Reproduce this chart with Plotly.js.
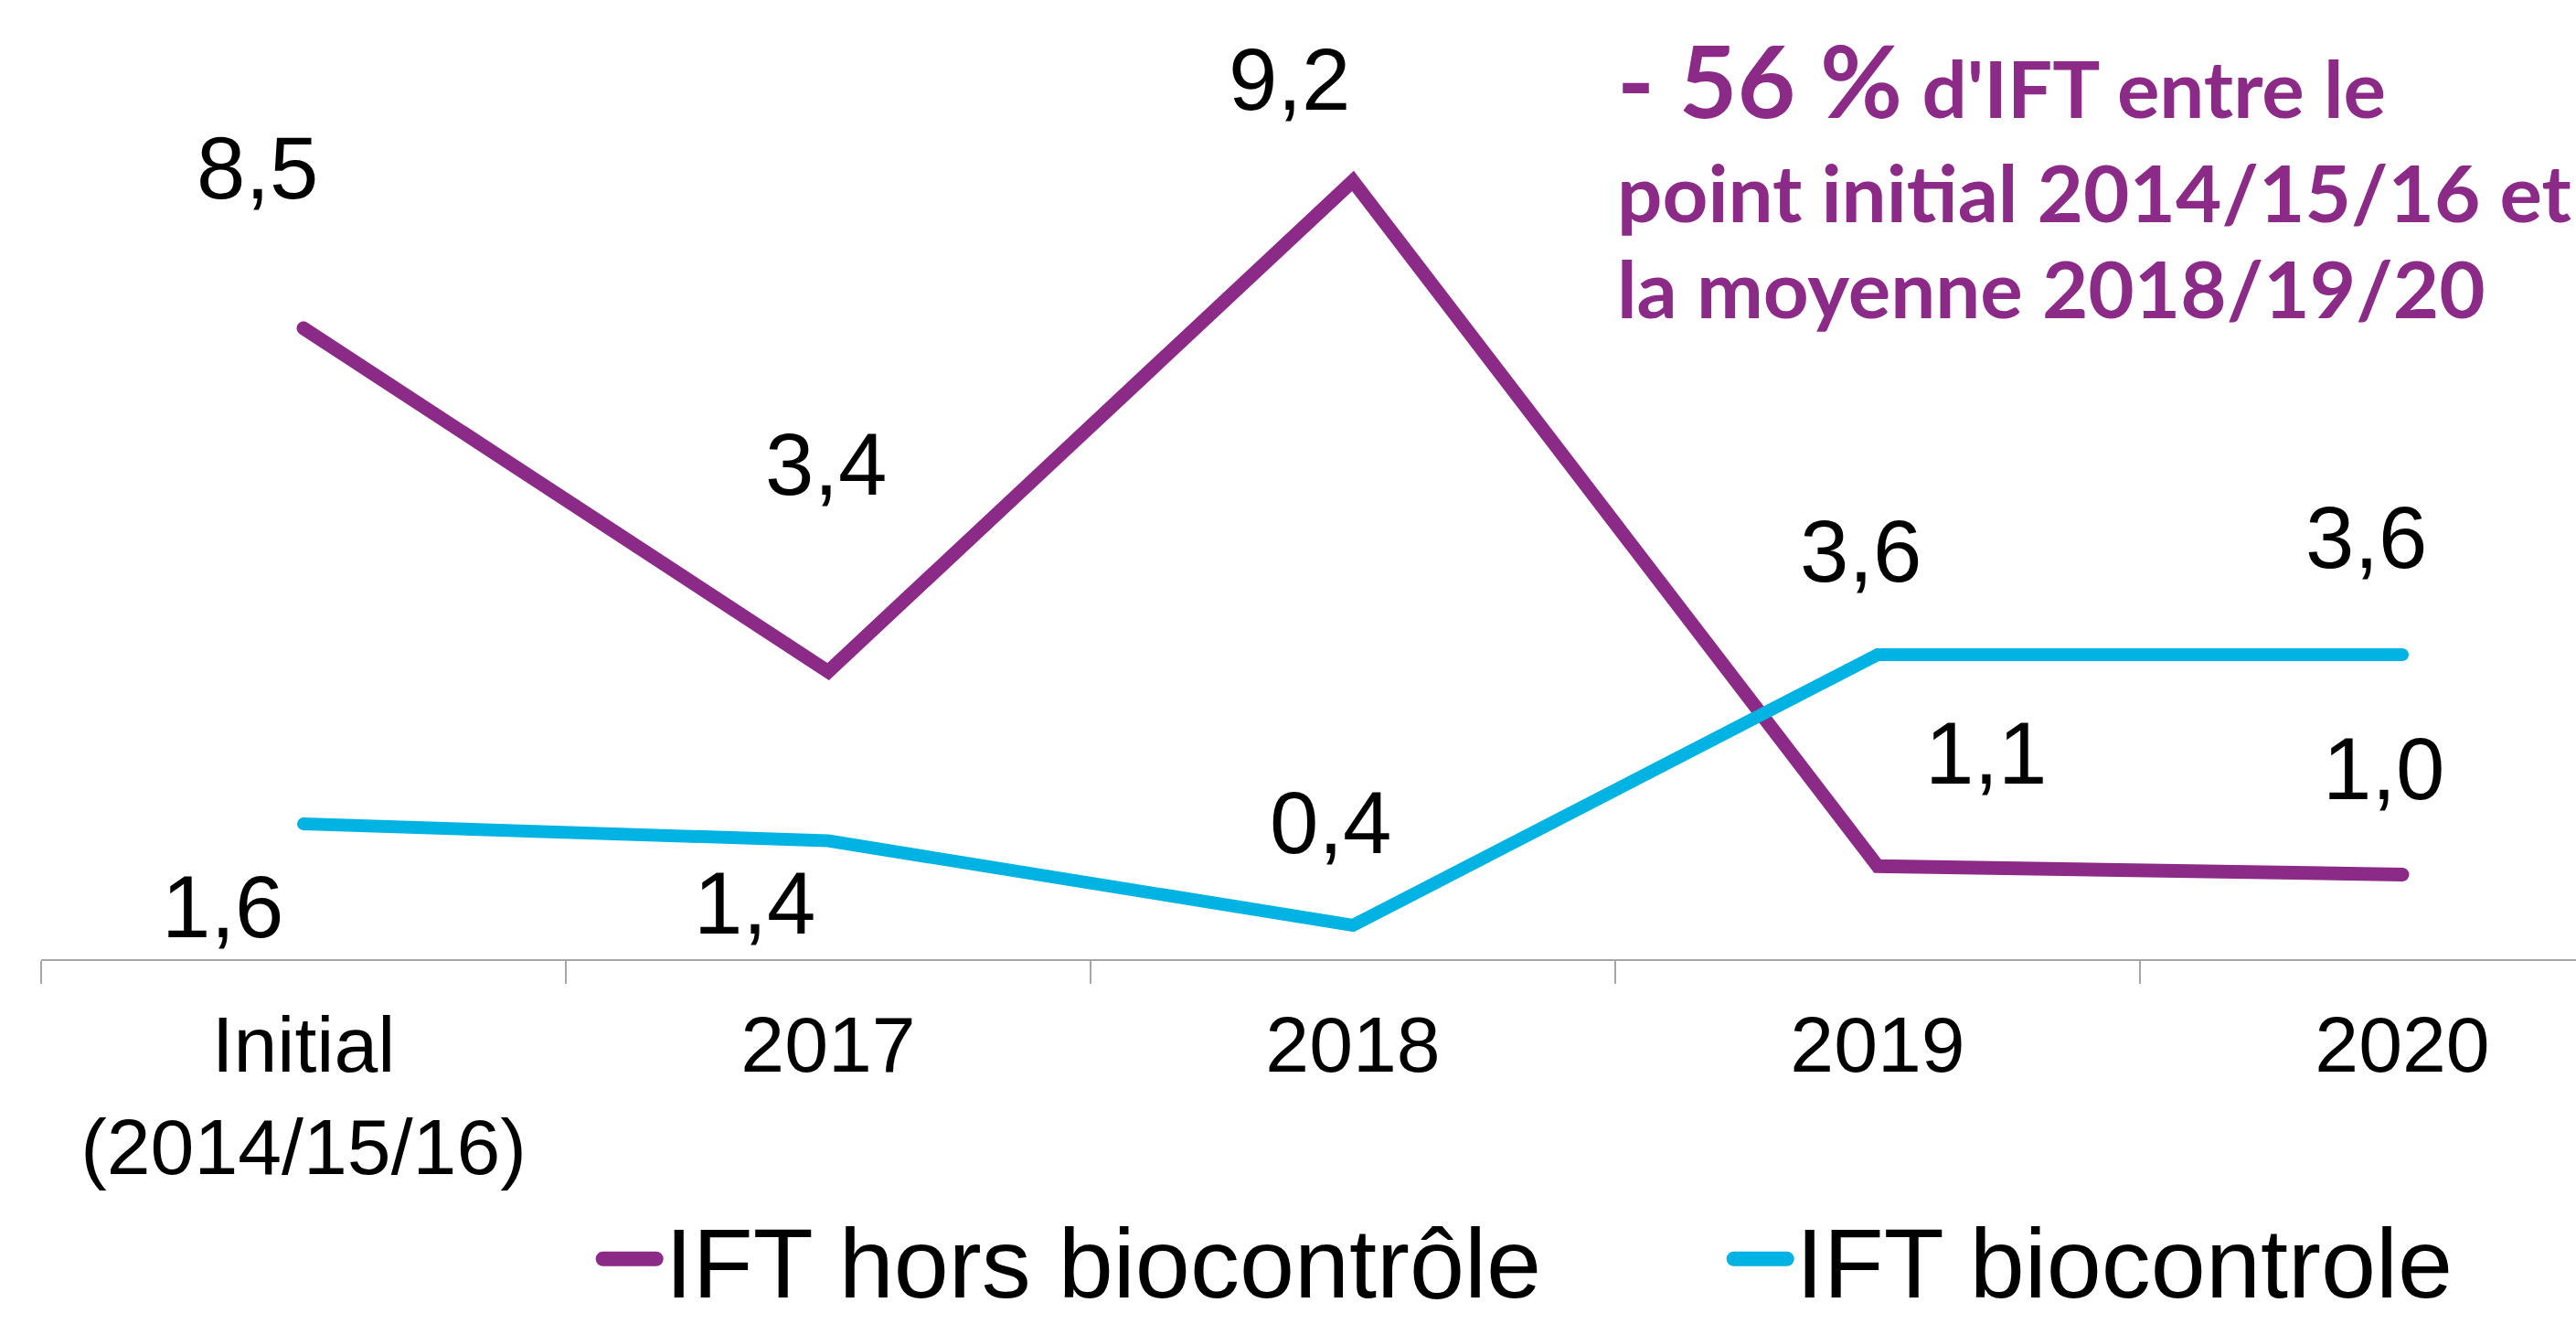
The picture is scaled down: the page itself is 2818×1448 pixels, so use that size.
<!DOCTYPE html>
<html>
<head>
<meta charset="utf-8">
<script src="https://cdn.plot.ly/plotly-3.0.1.min.js"></script>
<style>
  html, body { margin: 0; padding: 0; background: #ffffff; }
  #chart { width: 2818px; height: 1448px; }
  .scatterlayer .js-line { stroke-linecap: round; }
  .legend .scrollbox { clip-path: none !important; }
  .legend .js-line { stroke-width: 16px !important; stroke-linecap: round; d: path("M-28,0h58"); }
</style>
</head>
<body>
<div id="chart"></div>
<script>
// ---- data ----
const categories = ['Initial<br>(2014/15/16)', '2017', '2018', '2019', '2020'];
const seriesNames = ['IFT hors biocontrôle', 'IFT biocontrole'];
const horsValues = [7.46, 3.4, 9.2, 1.1, 1.0];
const horsLabels = ['8,5', '3,4', '9,2', '1,1', '1,0'];
const bioValues = [1.6, 1.4, 0.4, 3.6, 3.6];
const bioLabels = ['1,6', '1,4', '0,4', '3,6', '3,6'];
const noteLines = [
  '<span style="font-size:110px">- 56 %</span> d\'IFT entre le',
  'point initial 2014/15/16 et',
  'la moyenne 2018/19/20'
];

// ---- styling ----
const purple = '#8B2A87';
const blue = '#00B3E3';
const labelFont = { family: 'Liberation Sans, Arial, sans-serif', size: 96, color: '#000000' };
// label offsets in pixels (dx right, dy up) relative to each point
const horsShift = [[-51, 175], [-3, 227], [-70, 111], [118, 124], [-21, 116]];
const bioShift = [[-89, -91], [-81, -68], [-25, 113], [-19, 113], [-40, 128]];

const traces = [
  { type: 'scatter', mode: 'lines', name: seriesNames[0], x: categories, y: horsValues,
    line: { color: purple, width: 15 }, hoverinfo: 'skip' },
  { type: 'scatter', mode: 'lines', name: seriesNames[1], x: categories, y: bioValues,
    line: { color: blue, width: 14 }, hoverinfo: 'skip' }
];

const annotations = [];
function addLabels(vals, labels, shifts) {
  vals.forEach((v, i) => {
    annotations.push({
      x: i, y: v, xref: 'x', yref: 'y', text: labels[i], showarrow: false,
      xshift: shifts[i][0], yshift: shifts[i][1], font: labelFont,
      xanchor: 'center', yanchor: 'middle'
    });
  });
}
addLabels(horsValues, horsLabels, horsShift);
addLabels(bioValues, bioLabels, bioShift);

const noteY = [86, 209, 315];
noteLines.forEach((t, i) => {
  annotations.push({
    xref: 'paper', yref: 'paper', x: (1767 - 45) / 2773, y: (1049 - noteY[i]) / 1049,
    xanchor: 'left', yanchor: 'middle', align: 'left', showarrow: false, text: t,
    font: { family: 'Lato, "Open Sans", sans-serif', size: 87, color: purple, weight: 700 }
  });
});

const layout = {
  width: 2818, height: 1448,
  margin: { l: 45, r: 0, t: 0, b: 399 },
  paper_bgcolor: '#ffffff', plot_bgcolor: '#ffffff',
  showlegend: true,
  legend: {
    orientation: 'h', xref: 'container', yref: 'container',
    x: 0.683, xanchor: 'center', y: 0.049, yanchor: 'middle',
    font: { family: 'Liberation Sans, Arial, sans-serif', size: 108, color: '#000000' },
    entrywidth: 1192, bgcolor: 'rgba(0,0,0,0)'
  },
  xaxis: {
    type: 'category', range: [-0.5, 4.331], fixedrange: true,
    showline: true, linecolor: '#A6A6A6', linewidth: 2,
    ticks: 'outside', tickson: 'boundaries', ticklen: 25, tickcolor: '#A6A6A6', tickwidth: 2,
    ticklabelstandoff: 18,
    showgrid: false, zeroline: false,
    tickfont: { family: 'Liberation Sans, Arial, sans-serif', size: 86, color: '#000000' }
  },
  yaxis: {
    range: [0, 11.34], visible: false, showgrid: false, zeroline: false, fixedrange: true
  },
  annotations: annotations
};

Plotly.newPlot('chart', traces, layout, { displayModeBar: false, staticPlot: true });
</script>
</body>
</html>
